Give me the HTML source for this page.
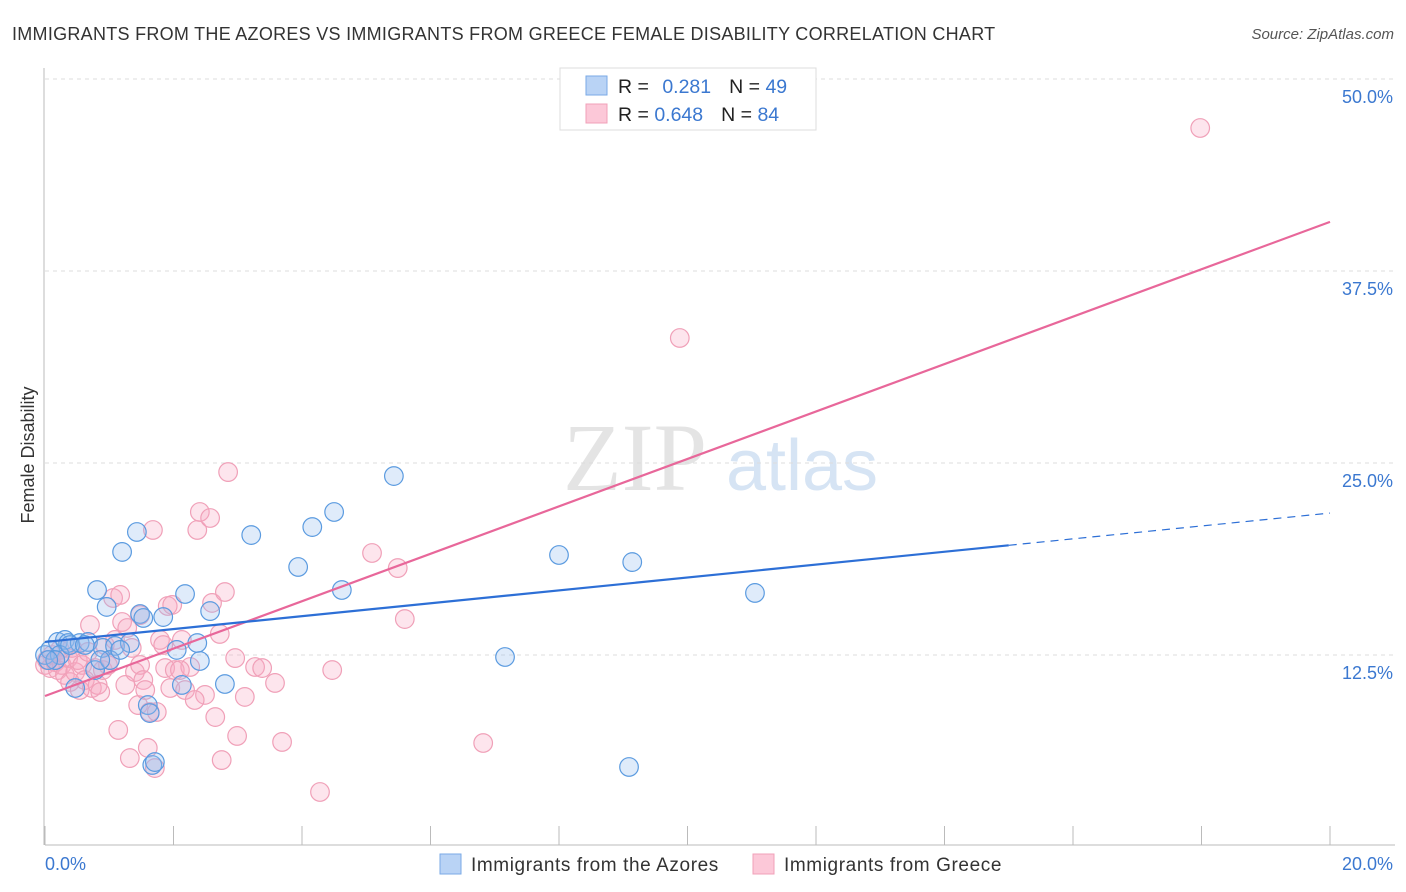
<!DOCTYPE html>
<html><head><meta charset="utf-8"><style>
body{margin:0;background:#fff;font-family:"Liberation Sans",sans-serif;}
svg{display:block}
</style></head><body>
<svg id="chart" width="1406" height="892">
<text x="12" y="40" font-size="18" fill="#333" letter-spacing="0.28">IMMIGRANTS FROM THE AZORES VS IMMIGRANTS FROM GREECE FEMALE DISABILITY CORRELATION CHART</text>
<text x="1394" y="39" font-size="15" fill="#555" text-anchor="end" font-style="italic">Source: ZipAtlas.com</text>
<text transform="translate(34,455) rotate(-90)" font-size="18" fill="#333" text-anchor="middle">Female Disability</text>
<g>
<text x="635" y="490" font-size="96" font-family="Liberation Serif,serif" fill="#e4e4e4" text-anchor="middle">ZIP</text>
<text x="802" y="490" font-size="72" fill="#d6e4f4" text-anchor="middle">atlas</text>
</g>
<g id="grid"></g><g id="axes"></g><g id="pts"></g><g id="lines"></g>
<g>
<rect x="560" y="68" width="256" height="62" fill="#fff" stroke="#ddd"/>
<rect x="586" y="76" width="21" height="19" fill="#b9d3f5" stroke="#7aa9e6"/>
<rect x="586" y="104" width="21" height="19" fill="#fcc8d8" stroke="#f1a0b8"/>
<text x="618" y="93" font-size="19.5" fill="#222">R = <tspan fill="#3b78d0" dx="8">0.281</tspan><tspan dx="18" fill="#222">N = </tspan><tspan fill="#3b78d0">49</tspan></text>
<text x="618" y="121" font-size="19.5" fill="#222">R = <tspan fill="#3b78d0">0.648</tspan><tspan dx="18" fill="#222">N = </tspan><tspan fill="#3b78d0">84</tspan></text>
</g>
<g>
<rect x="440" y="854" width="21" height="20" fill="#b9d3f5" stroke="#7aa9e6"/>
<text x="471" y="871" font-size="19" letter-spacing="0.6" fill="#333">Immigrants from the Azores</text>
<rect x="753" y="854" width="21" height="20" fill="#fcc8d8" stroke="#f1a0b8"/>
<text x="784" y="871" font-size="19" letter-spacing="0.6" fill="#333">Immigrants from Greece</text>
</g>
</svg>
<script>
const blueX=[0,.08,.20,.31,.36,.47,.54,.67,.81,.90,.96,1.09,1.20,1.32,1.43,1.48,1.53,1.60,1.67,1.71,1.84,2.05,2.13,2.18,2.37,2.41,2.57,2.80,3.21,3.94,4.16,4.50,4.62,5.43,7.16,8.00,9.09,9.14,11.05,.23,.39,.78,1.01,1.63,.62,.16,.86,1.17,.05];
const blueY=[12.5,12.83,13.35,13.48,13.28,10.35,13.28,13.35,16.73,12.96,15.63,13.09,19.21,13.28,20.51,15.17,14.91,9.24,5.34,5.53,14.97,12.83,10.55,16.47,13.28,12.11,15.36,10.61,20.31,18.23,20.83,21.81,16.73,24.15,12.37,19.01,5.21,18.55,16.54,12.5,13.15,11.52,12.17,8.72,13.15,12.17,12.17,12.83,12.17];
const pinkX=[0,.03,.08,.11,.16,.20,.23,.26,.31,.36,.39,.42,.47,.51,.54,.58,.62,.67,.70,.73,.78,.82,.86,.90,.93,.98,1.01,1.06,1.09,1.14,1.17,1.20,1.25,1.28,1.32,1.35,1.40,1.45,1.48,1.53,1.56,1.60,1.63,1.68,1.71,1.74,1.79,1.84,1.87,1.91,1.95,1.98,2.02,2.13,2.18,2.26,2.37,2.41,2.49,2.57,2.60,2.65,2.72,2.75,2.80,2.85,2.96,2.99,3.11,3.27,3.38,3.58,3.69,4.28,4.47,5.09,5.49,5.60,6.82,9.88,17.98,2.33,2.10,1.48];
const pinkY=[11.85,12.17,11.65,12.5,12.04,11.52,12.83,11.85,11.2,12.3,10.74,12.96,11.39,12.17,10.22,11.85,10.87,12.7,14.45,10.35,11.65,10.55,10.09,11.52,13.15,11.85,12.17,16.21,13.48,7.62,16.41,14.65,10.55,14.26,5.79,12.96,11.39,9.24,11.85,10.87,10.22,6.45,8.79,20.64,5.14,8.79,13.48,13.15,11.65,15.69,10.35,15.76,11.52,13.48,10.22,11.72,20.64,21.81,9.9,21.42,15.89,8.46,13.87,5.66,16.6,24.41,12.3,7.23,9.77,11.72,11.65,10.68,6.84,3.58,11.52,19.14,18.16,14.84,6.77,33.14,46.81,9.57,11.52,15.1];
const yTicks=[12.5,25,37.5,50];
const yTickLabels=["12.5%","25.0%","37.5%","50.0%"];
const xTicks=[0,2,4,6,8,10,12,14,16,18,20];
const blueLine=[13.35,21.74], blueSolidEnd=15.0;
const pinkLine=[9.83,40.7];
const NS="http://www.w3.org/2000/svg";
const sx=v=>45+v/20*1285, sy=v=>847-v/12.5*192;
function mk(t,a,p){const e=document.createElementNS(NS,t);for(const k in a)e.setAttribute(k,a[k]);p.appendChild(e);return e;}
const grid=document.getElementById('grid'),axes=document.getElementById('axes'),pts=document.getElementById('pts'),lines=document.getElementById('lines');
yTicks.forEach((v,i)=>{
 const g=mk('line',{x1:45,x2:1395,y1:sy(v),y2:sy(v),stroke:'#ddd','stroke-dasharray':'4,4'},grid);
 
 
 const t=mk('text',{x:1393,y:sy(v)+24,'font-size':18,fill:'#3b78d0','text-anchor':'end'},axes);
 t.textContent=yTickLabels[i];
 
 
});
const xa=mk('line',{x1:45,x2:1395,y1:845,y2:845,stroke:'#bbb'},axes);


const ya=mk('line',{x1:44,x2:44,y1:68,y2:845,stroke:'#bbb'},axes);


xTicks.forEach(v=>{
 const t=mk('line',{x1:sx(v),x2:sx(v),y1:826,y2:845,stroke:'#bbb'},axes);
 
 
});
const xl0=mk('text',{x:45,y:870,'font-size':18,fill:'#3b78d0'},axes);xl0.textContent='0.0%';


const xl1=mk('text',{x:1393,y:870,'font-size':18,fill:'#3b78d0','text-anchor':'end'},axes);xl1.textContent='20.0%';


pinkX.forEach((x,i)=>{
 const c=mk('circle',{cx:sx(x),cy:sy(pinkY[i]),r:9.3,fill:'rgba(248,170,195,0.3)',stroke:'#f0a0b8','stroke-width':1.2},pts);
 
 
});
blueX.forEach((x,i)=>{
 const c=mk('circle',{cx:sx(x),cy:sy(blueY[i]),r:9.3,fill:'rgba(150,190,240,0.3)',stroke:'#5b9be0','stroke-width':1.2},pts);
 
 
});
const by=x=>blueLine[0]+(blueLine[1]-blueLine[0])*x/20;
const pl=mk('line',{x1:sx(0),y1:sy(pinkLine[0]),x2:sx(20),y2:sy(pinkLine[1]),stroke:'#e8679a','stroke-width':2.2},lines);


const bl=mk('line',{x1:sx(0),y1:sy(by(0)),x2:sx(blueSolidEnd),y2:sy(by(blueSolidEnd)),stroke:'#2d6fd6','stroke-width':2.2},lines);


const bd=mk('line',{x1:sx(blueSolidEnd),y1:sy(by(blueSolidEnd)),x2:sx(20),y2:sy(by(20)),stroke:'#2d6fd6','stroke-width':1.2,'stroke-dasharray':'8,6'},lines);


</script>
</body></html>
